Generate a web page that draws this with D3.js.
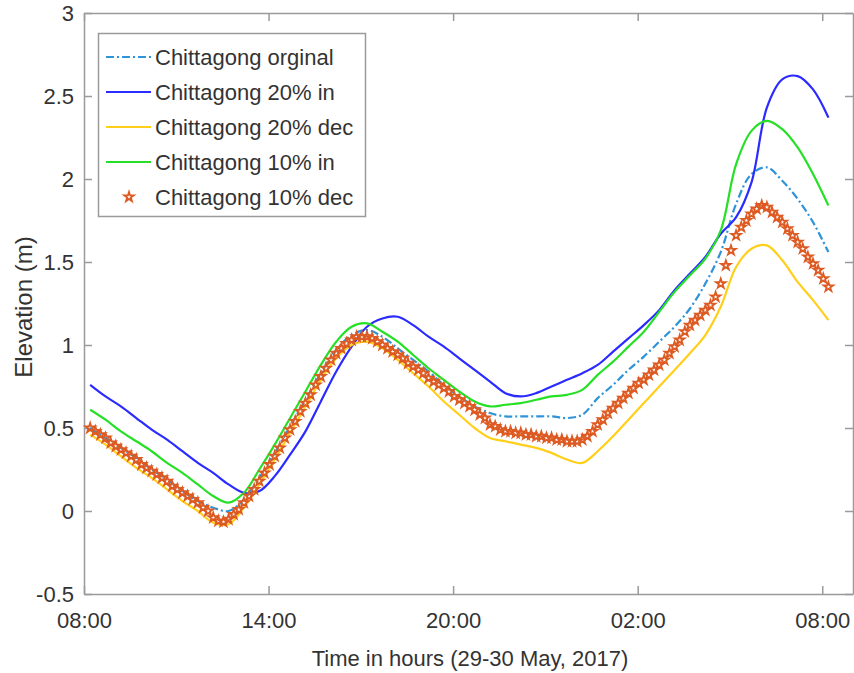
<!DOCTYPE html>
<html lang="en">
<head>
<meta charset="utf-8">
<title>Chittagong elevation</title>
<script src="https://d3js.org/d3.v7.min.js"></script>
<style>
    body{margin:0;background:#fff;font-family:"Liberation Sans",Arial,sans-serif;}
    #chart1 text{fill:#333;}
</style>
</head>
<body>
<div id="chart1"></div>
<script>
// hours after 08:00, 29 May 2017
var lineHours = d3.range(49).map(function(i){ return 0.2 + i*0.5 })   // half hour samples
var markHours = d3.range(145).map(function(i){ return 0.2 + i/6 })    // 10 minute samples

var tickHours = [0, 6, 12, 18, 24]
var tickLabels = ["08:00", "14:00", "20:00", "02:00", "08:00"]
var yTicks = [-0.5, 0, 0.5, 1, 1.5, 2, 2.5, 3]

var seriesNames = ["Chittagong orginal", "Chittagong 20% in", "Chittagong 20% dec", "Chittagong 10% in", "Chittagong 10% dec"]

var original = [0.50,0.44,0.38,0.32,0.25,0.19,0.12,0.06,0.02,0.00,0.07,0.20,0.35,0.51,0.67,0.83,0.97,1.06,1.09,1.05,
                0.98,0.91,0.84,0.76,0.69,0.63,0.59,0.57,0.57,0.57,0.57,0.56,0.58,0.68,0.76,0.85,0.93,1.02,1.11,1.22,
                1.37,1.56,1.85,2.03,2.07,1.99,1.88,1.74,1.56]
var in20 = [0.76,0.69,0.63,0.56,0.49,0.43,0.36,0.29,0.23,0.16,0.11,0.12,0.21,0.34,0.48,0.66,0.84,0.99,1.11,1.16,
            1.17,1.12,1.05,0.99,0.92,0.85,0.78,0.71,0.69,0.71,0.75,0.79,0.83,0.88,0.96,1.04,1.12,1.21,1.33,1.43,
            1.53,1.67,1.77,1.98,2.43,2.60,2.62,2.54,2.37]
var dec20 = [0.46,0.40,0.33,0.26,0.20,0.13,0.06,0.00,-0.07,-0.08,0.02,0.16,0.31,0.47,0.63,0.79,0.92,1.00,1.02,0.98,
             0.91,0.83,0.75,0.66,0.58,0.50,0.44,0.42,0.40,0.38,0.35,0.31,0.29,0.36,0.45,0.55,0.65,0.75,0.85,0.95,
             1.06,1.23,1.47,1.58,1.60,1.51,1.38,1.27,1.15]
var in10 = [0.61,0.55,0.48,0.42,0.36,0.29,0.23,0.16,0.09,0.05,0.11,0.25,0.40,0.56,0.72,0.88,1.02,1.11,1.13,1.08,
            1.02,0.94,0.86,0.79,0.72,0.66,0.63,0.64,0.65,0.67,0.69,0.70,0.73,0.82,0.90,0.99,1.08,1.20,1.32,1.42,
            1.52,1.69,2.09,2.29,2.35,2.30,2.19,2.03,1.84]
var dec10 = [0.50,0.48,0.46,0.44,0.41,0.39,0.37,0.35,0.33,0.31,0.28,0.26,0.24,0.22,0.20,0.18,0.15,0.13,0.11,0.09,
             0.07,0.05,0.02,0.00,-0.04,-0.06,-0.065,-0.05,-0.02,0.01,0.05,0.09,0.13,0.18,0.23,0.28,0.33,0.38,0.44,0.49,
             0.54,0.60,0.65,0.70,0.76,0.81,0.86,0.91,0.95,0.98,1.01,1.03,1.05,1.05,1.05,1.04,1.02,1.00,0.98,0.96,
             0.94,0.92,0.89,0.87,0.85,0.83,0.80,0.78,0.76,0.74,0.72,0.69,0.67,0.65,0.63,0.61,0.58,0.56,0.52,0.51,
             0.49,0.48,0.48,0.47,0.47,0.46,0.46,0.45,0.45,0.44,0.44,0.43,0.43,0.42,0.42,0.42,0.43,0.45,0.48,0.52,
             0.55,0.59,0.62,0.65,0.68,0.71,0.74,0.77,0.79,0.82,0.85,0.88,0.91,0.95,0.99,1.03,1.08,1.12,1.15,1.18,
             1.21,1.24,1.29,1.37,1.48,1.57,1.66,1.71,1.75,1.79,1.82,1.84,1.83,1.80,1.77,1.74,1.70,1.66,1.62,1.58,
             1.53,1.49,1.45,1.40,1.35]

var colors = ["#2f93d8", "#2b2bff", "#ffcf1a", "#26e026", "#dd5a22"]

var w = 854, h = 673
// plot box edges (window.top is read only, so no "top" name here)
var boxL = 84, boxR = 853, boxT = 13, boxB = 594

var svg = d3.select("#chart1").append("svg").attr("width", w).attr("height", h)

var xScale = d3.scaleLinear().domain([0, 25]).range([boxL, boxR])
var yScale = d3.scaleLinear().domain([-0.5, 3]).range([boxB, boxT])

// axes, ticks pointing inward like matlab
svg.append("g").attr("transform", "translate(0," + boxB + ")")
    .call(d3.axisBottom(xScale).tickValues(tickHours).tickSizeInner(-8).tickSizeOuter(0).tickPadding(18)
        .tickFormat(function(d, i){ return tickLabels[i] }))
svg.append("g").attr("transform", "translate(0," + boxT + ")")
    .call(d3.axisTop(xScale).tickValues(tickHours).tickSizeInner(-8).tickSizeOuter(0).tickFormat(""))
svg.append("g").attr("transform", "translate(" + boxL + ",0)")
    .call(d3.axisLeft(yScale).tickValues(yTicks).tickSizeInner(-8).tickSizeOuter(0).tickPadding(10)
        .tickFormat(function(d){ return d }))
svg.append("g").attr("transform", "translate(" + boxR + ",0)")
    .call(d3.axisRight(yScale).tickValues(yTicks).tickSizeInner(-8).tickSizeOuter(0).tickFormat(""))

svg.selectAll(".domain, .tick line").attr("stroke", "#9a9a9a").attr("stroke-width", 1.5)
svg.selectAll(".tick text").attr("font-size", 22).attr("font-family", "Liberation Sans, Arial, sans-serif")

svg.append("text").attr("x", 470).attr("y", 666).attr("text-anchor", "middle")
    .attr("font-size", 22).text("Time in hours (29-30 May, 2017)")
svg.append("text").attr("transform", "translate(32,307) rotate(-90)").attr("text-anchor", "middle")
    .attr("font-size", 24).text("Elevation (m)")

var line = d3.line()
    .x(function(d, i){ return xScale(lineHours[i]) })
    .y(function(d){ return yScale(d) })
    .curve(d3.curveCatmullRom.alpha(0.5))

var lineSeries = [original, in20, dec20, in10]
lineSeries.forEach(function(s, k){
    svg.append("path").datum(s)
        .attr("d", line)
        .attr("fill", "none")
        .attr("stroke", colors[k])
        .attr("stroke-width", 2.2)
        .attr("stroke-dasharray", k == 0 ? "8,3,2,3" : null)
})

var star = d3.symbol().type(d3.symbolStar).size(28)
svg.selectAll(".mark").data(dec10).enter().append("path")
    .attr("class", "mark")
    .attr("d", star)
    .attr("transform", function(d, i){ return "translate(" + xScale(markHours[i]) + "," + yScale(d) + ")" })
    .attr("fill", "none")
    .attr("stroke", colors[4])
    .attr("stroke-width", 1.8)

// legend
var lg = svg.append("g")
lg.append("rect").attr("x", 98.5).attr("y", 33.5).attr("width", 267).attr("height", 183)
    .attr("fill", "#fff").attr("stroke", "#9a9a9a").attr("stroke-width", 1.5)
seriesNames.forEach(function(name, k){
    var yy = 57 + k*35
    if(k < 4){
        lg.append("line").attr("x1", 106).attr("x2", 151).attr("y1", yy).attr("y2", yy)
            .attr("stroke", colors[k]).attr("stroke-width", 2.2)
            .attr("stroke-dasharray", k == 0 ? "8,3,2,3" : null)
    }else{
        lg.append("path").attr("d", star).attr("transform", "translate(129," + yy + ")")
            .attr("fill", "none").attr("stroke", colors[4]).attr("stroke-width", 1.8)
    }
    lg.append("text").attr("x", 155).attr("y", yy).attr("dy", "0.36em")
        .attr("font-size", 22).text(name)
})
</script>
</body>
</html>
